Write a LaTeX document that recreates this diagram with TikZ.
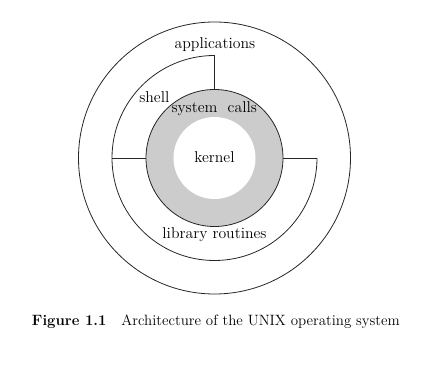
\documentclass[tikz,border=0pt]{standalone}
\usepackage{tikz}

\begin{document}
\begin{tikzpicture}[
  x=0.75pt, y=0.75pt,
  font=\fontsize{11.2}{13}\selectfont,
  ring/.style={
    circle,
    draw=black!85,
    line width=0.6pt,
    inner sep=0pt
  },
  divider/.style={draw=black!85, line width=0.6pt},
  label/.style={anchor=base, inner sep=0pt, font=\fontsize{11.8}{14}\selectfont}
]

\useasboundingbox (0,0) rectangle (440,-366);

\coordinate (center) at (214.5,-158);

\node[ring, minimum size=204pt] (applicationsRing) at (center) {};
\node[ring, fill=black!20, minimum size=102.75pt] (syscallRing) at (center) {};
\node[circle, fill=white, inner sep=0pt, minimum size=61.5pt] (kernelCore) at (center) {};

% shell boundary: open in the upper right quadrant
\coordinate (shellTop) at ([yshift=76.875pt]center);
\coordinate (shellLeft) at ([xshift=-76.875pt]center);
\coordinate (shellRight) at ([xshift=76.875pt]center);

\draw[divider] (shellTop) arc[start angle=90, end angle=360, radius=76.875pt];
\draw[divider] (syscallRing.north) -- (shellTop);
\draw[divider] (syscallRing.west) -- (shellLeft);
\draw[divider] (syscallRing.east) -- (shellRight);

\node[label] (applications) at (215,-48.3) {applications};
\node[label] (shell) at (154.3,-102.3) {shell};
\node[label] (systemCalls) at (214.2,-112.3) {system\ \ calls};
\node[label] (kernel) at (214.5,-162.7) {kernel};
\node[label] (libraryRoutines) at (214.5,-238.3) {library routines};

\node[anchor=base west, inner sep=0pt] (figCaption) at (31.7,-326)
  {\textbf{Figure 1.1}\quad Architecture of the UNIX operating system};

\end{tikzpicture}
\end{document}
